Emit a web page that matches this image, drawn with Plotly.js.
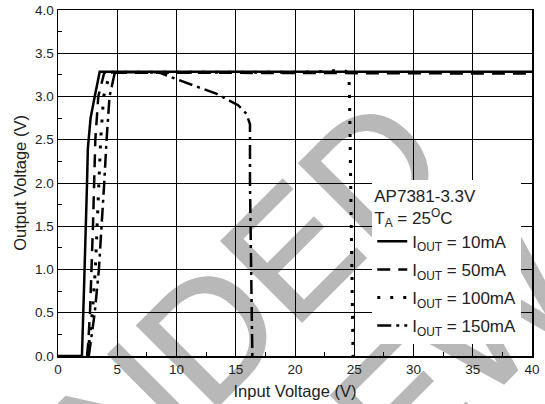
<!DOCTYPE html>
<html>
<head>
<meta charset="utf-8">
<script src="https://cdn.plot.ly/plotly-3.0.1.min.js"></script>
<style>
  html, body { margin: 0; padding: 0; background: #ffffff; }
  #wrap { position: relative; width: 545px; height: 404px; overflow: hidden; }
  #wm { position: absolute; left: 0; top: 0; z-index: 0; }
  #chart { position: absolute; left: 0; top: 0; width: 545px; height: 404px; z-index: 1; }
</style>
</head>
<body>
<div id="wrap">
  <svg id="wm" width="545" height="404" xmlns="http://www.w3.org/2000/svg">
    <g fill="#b8b8b8" stroke="#b8b8b8" stroke-width="2.5" font-family="'Liberation Sans', Arial, sans-serif" font-size="165">
      <text x="454.6" y="168.8" text-anchor="end" transform="rotate(-45 454.6 168.8)">NOT RECOMMENDED</text>
      <text x="39" y="848" text-anchor="start" transform="rotate(-45 39 848)">FOR NEW DESIGN</text>
    </g>
  </svg>
  <div id="chart"></div>
</div>
<script>
// ---- data ----
const series_names = ["I<sub>OUT</sub> = 10mA", "I<sub>OUT</sub> = 50mA", "I<sub>OUT</sub> = 100mA", "I<sub>OUT</sub> = 150mA"];

const vin_10mA  = [0, 1.0, 2.02, 2.2, 2.38, 2.45, 2.52, 2.75, 3.1, 3.52, 10, 20, 30, 40];
const vout_10mA = [0, 0, 0, 0.8, 1.5, 2.0, 2.4, 2.75, 3.0, 3.285, 3.285, 3.285, 3.285, 3.285];

const vin_50mA  = [2.45, 2.55, 2.7, 2.85, 2.95, 3.05, 3.15, 3.4, 3.9, 10, 20, 30, 40];
const vout_50mA = [0, 0.15, 0.5, 1.0, 1.5, 2.0, 2.5, 3.0, 3.275, 3.275, 3.27, 3.265, 3.265];

const vin_100mA  = [2.5, 2.65, 2.9, 3.15, 3.3, 3.45, 3.6, 3.85, 4.4, 10, 20, 22.8, 23.9, 24.3, 24.55, 24.6, 24.7, 24.8, 24.9];
const vout_100mA = [0, 0.2, 0.5, 1.0, 1.5, 2.0, 2.5, 3.0, 3.28, 3.28, 3.28, 3.29, 3.31, 3.29, 3.25, 3.0, 2.0, 1.0, 0];

const vin_150mA  = [2.6, 2.8, 3.1, 3.45, 3.7, 3.9, 4.1, 4.35, 4.8, 8.5, 10, 12, 13.4, 14.5, 15.2, 15.9, 16.2, 16.2, 16.3, 16.35, 16.4];
const vout_150mA = [0, 0.2, 0.5, 1.0, 1.5, 2.0, 2.5, 3.0, 3.28, 3.28, 3.2, 3.1, 3.03, 2.95, 2.9, 2.8, 2.68, 2.0, 1.0, 0.3, 0];

const legend_header = "AP7381-3.3V<br>T<sub>A</sub> = 25<sup>O</sup>C";
const x_title = "Input Voltage (V)";
const y_title = "Output Voltage (V)";

const FONT = "'Liberation Sans', Arial, sans-serif";

function tr(x, y, name, dash, w, grp) {
  return { x: x, y: y, name: name, legendgroup: grp, type: "scatter", mode: "lines",
           line: { color: "#000000", width: w, dash: dash }, hoverinfo: "skip" };
}

const data = [
  tr(vin_10mA, vout_10mA, series_names[0], "solid", 2.5, "g1"),
  tr(vin_50mA, vout_50mA, series_names[1], "13px,8px", 2.5, "g2"),
  tr(vin_100mA, vout_100mA, series_names[2], "3px,10px", 3, "g3"),
  tr(vin_150mA, vout_150mA, series_names[3], "14px,5px,3px,5px", 2.5, "g4")
];

const axisCommon = {
  showline: true, linecolor: "#000000", linewidth: 1.5, mirror: true,
  showgrid: true, gridcolor: "#000000", gridwidth: 1,
  zeroline: false,
  ticks: "inside", ticklen: 5, tickcolor: "#000000",
  tickfont: { family: FONT, size: 13.5, color: "#222222" }
};

const layout = {
  width: 545, height: 404,
  margin: { l: 58, r: 13, t: 10, b: 48 },
  paper_bgcolor: "rgba(0,0,0,0)",
  plot_bgcolor: "rgba(0,0,0,0)",
  font: { family: FONT, color: "#222222" },
  showlegend: true,
  xaxis: Object.assign({}, axisCommon, {
    range: [0, 40], dtick: 5, tick0: 0,
    minor: { dtick: 2.5, ticks: "inside", ticklen: 4, tickcolor: "#000000", showgrid: false },
    title: { text: x_title, font: { family: FONT, size: 16.5, color: "#222222" }, standoff: 9 }
  }),
  yaxis: Object.assign({}, axisCommon, {
    range: [0, 4], dtick: 0.5, tick0: 0, tickformat: ".1f",
    minor: { dtick: 0.25, ticks: "inside", ticklen: 4, tickcolor: "#000000", showgrid: false },
    title: { text: y_title, font: { family: FONT, size: 16.5, color: "#222222" }, standoff: 4 }
  }),
  legend: {
    x: 0.663, y: 0.51, xanchor: "left", yanchor: "top",
    bgcolor: "#ffffff", borderwidth: 0,
    font: { family: FONT, size: 17, color: "#222222" },
    title: { text: legend_header, font: { family: FONT, size: 17, color: "#222222" } },
    itemwidth: 30, tracegroupgap: 3
  }
};

Plotly.newPlot("chart", data, layout, { displayModeBar: false, staticPlot: true });
</script>
</body>
</html>
